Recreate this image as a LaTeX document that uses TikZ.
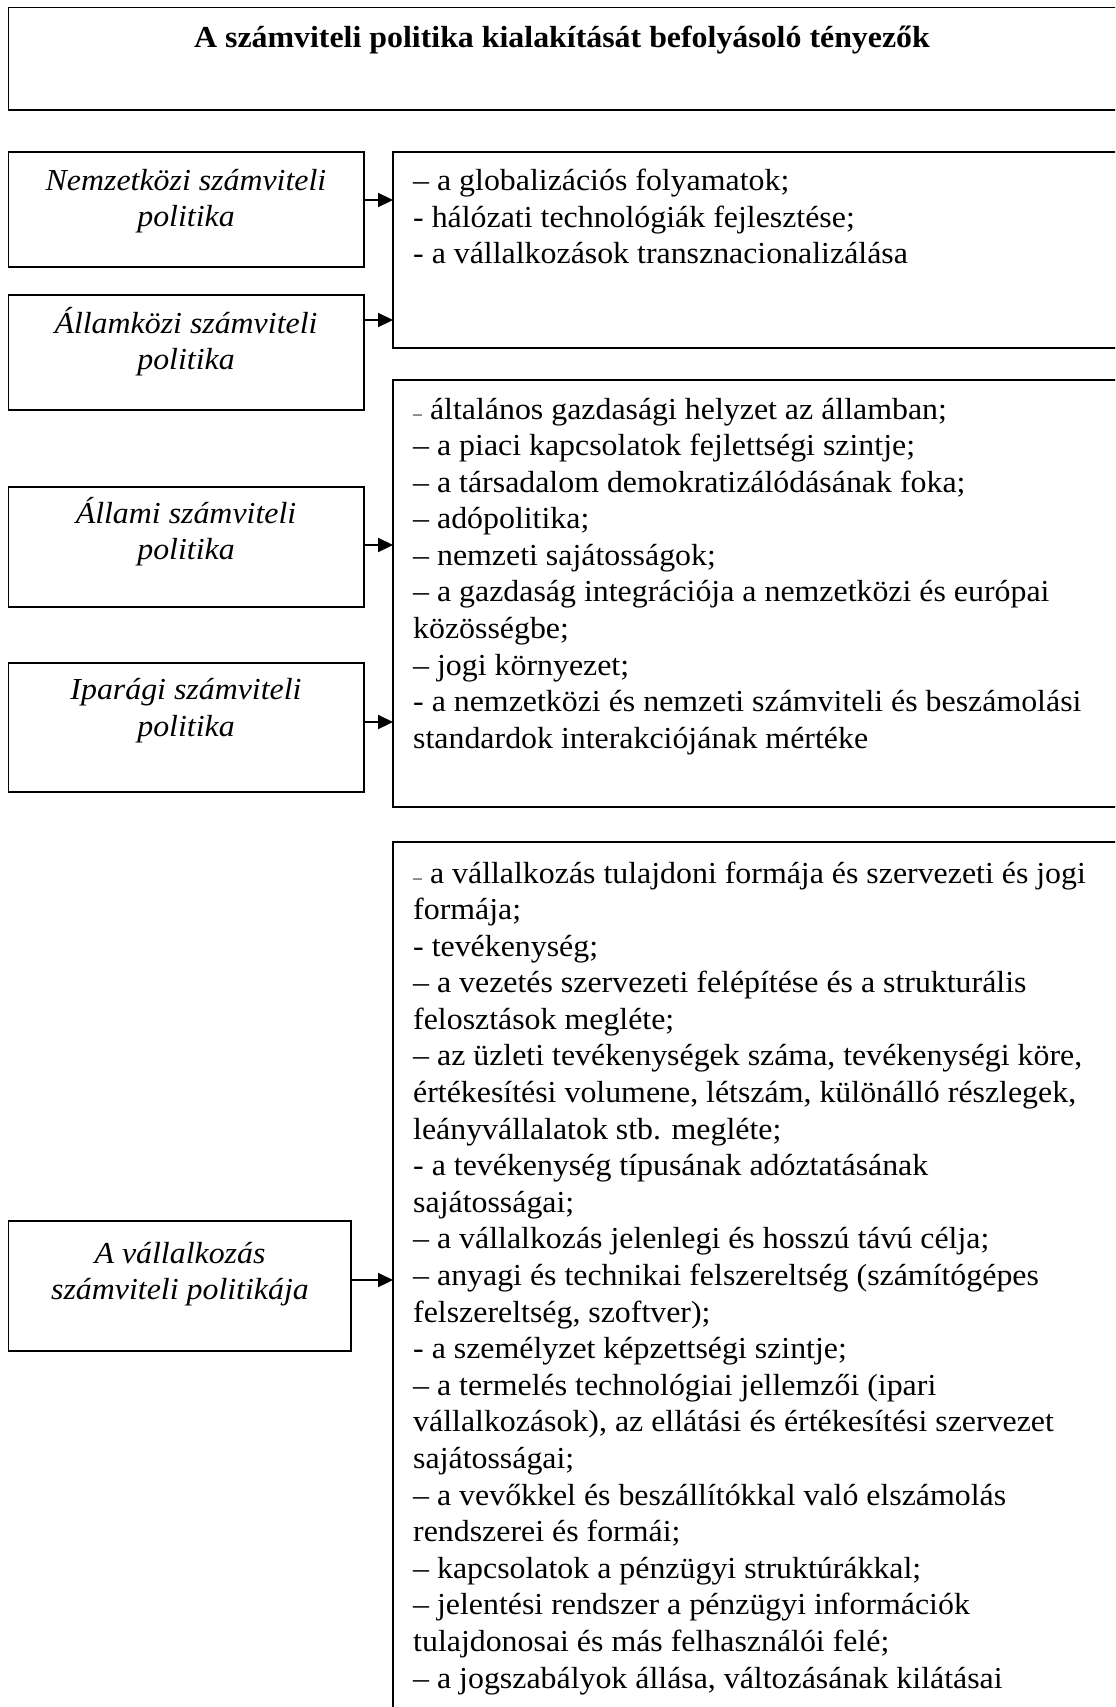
\documentclass[tikz,border=0pt]{standalone}
\usepackage{fontspec}
\setmainfont{Liberation Serif}[FakeStretch=1.045]
\usetikzlibrary{arrows.meta}
\newcommand\bodyfont{\fontsize{30.5bp}{36.6bp}\selectfont}
\newcommand\smdash{{\fontsize{17bp}{17bp}\selectfont –}}
\newcommand\listlines[4]{%
  \foreach \myline [count=\k from 0] in {#4}{%
    \node[listline] (#1-\k) at (#2,{#3+36.59*\k}) {\myline};}}
\begin{document}
\begin{tikzpicture}[x=1bp,y=-1bp,
  frame/.style={draw, line width=1.6bp, inner sep=0pt, outer sep=0pt, anchor=north west},
  conn/.style={line width=2.2bp, -{Triangle[length=15bp,width=14bp]}},
  leftlab/.style={font=\bodyfont\itshape, anchor=base, inner sep=0pt},
  listline/.style={font=\bodyfont, anchor=base west, inner sep=0pt},
  titlelab/.style={font=\bodyfont\bfseries, anchor=base, inner sep=0pt}]
\useasboundingbox (0,0) rectangle (1115,1707);
\clip (0,0) rectangle (1115,1707);

% title
\node[frame, minimum width=1120bp, minimum height=102.7bp] (title) at (8.5,7.3) {};
\node[titlelab] (titletext) at (562,47.3) {A számviteli politika kialakítását befolyásoló tényezők};

% left boxes
\node[frame, minimum width=355.5bp, minimum height=115bp] (nem) at (8.5,152) {};
\node[leftlab] (nem1) at (186,190) {Nemzetközi számviteli};
\node[leftlab] (nem2) at (186,226.7) {politika};

\node[frame, minimum width=355.5bp, minimum height=115bp] (allk) at (8.5,295) {};
\node[leftlab] (allk1) at (186,333) {Államközi számviteli};
\node[leftlab] (allk2) at (186,369.6) {politika};

\node[frame, minimum width=355.5bp, minimum height=120bp] (allam) at (8.5,486.7) {};
\node[leftlab] (allam1) at (186,523) {Állami számviteli};
\node[leftlab] (allam2) at (186,559.6) {politika};

\node[frame, minimum width=355.5bp, minimum height=129bp] (ipar) at (8.5,662.7) {};
\node[leftlab] (ipar1) at (186,699.5) {Iparági számviteli};
\node[leftlab] (ipar2) at (186,736) {politika};

\node[frame, minimum width=342.5bp, minimum height=130bp] (vall) at (8.5,1220.7) {};
\node[leftlab] (vall1) at (180,1263.3) {A vállalkozás};
\node[leftlab] (vall2) at (180,1299) {számviteli politikája};

% right boxes
\node[frame, minimum width=740bp, minimum height=196bp] (r1) at (393,152) {};
\node[frame, minimum width=740bp, minimum height=427bp] (r2) at (393,380) {};
\node[frame, minimum width=740bp, minimum height=900bp] (r3) at (393,841.7) {};

\listlines{ra}{413}{190.7}{%
{– a globalizációs folyamatok;},
{- hálózati technológiák fejlesztése;},
{- a vállalkozások transznacionalizálása}}

\listlines{rb}{413}{419}{%
{\smdash{} általános gazdasági helyzet az államban;},
{– a piaci kapcsolatok fejlettségi szintje;},
{– a társadalom demokratizálódásának foka;},
{– adópolitika;},
{– nemzeti sajátosságok;},
{– a gazdaság integrációja a nemzetközi és európai},
{közösségbe;},
{– jogi környezet;},
{- a nemzetközi és nemzeti számviteli és beszámolási},
{standardok interakciójának mértéke}}

\listlines{rc}{413}{883}{%
{\smdash{} a vállalkozás tulajdoni formája és szervezeti és jogi},
{formája;},
{- tevékenység;},
{– a vezetés szervezeti felépítése és a strukturális},
{felosztások megléte;},
{– az üzleti tevékenységek száma, tevékenységi köre,},
{értékesítési volumene, létszám, különálló részlegek,},
{leányvállalatok stb. megléte;},
{- a tevékenység típusának adóztatásának},
{sajátosságai;},
{– a vállalkozás jelenlegi és hosszú távú célja;},
{– anyagi és technikai felszereltség (számítógépes},
{felszereltség, szoftver);},
{- a személyzet képzettségi szintje;},
{– a termelés technológiai jellemzői (ipari},
{vállalkozások), az ellátási és értékesítési szervezet},
{sajátosságai;},
{– a vevőkkel és beszállítókkal való elszámolás},
{rendszerei és formái;},
{– kapcsolatok a pénzügyi struktúrákkal;},
{– jelentési rendszer a pénzügyi információk},
{tulajdonosai és más felhasználói felé;},
{– a jogszabályok állása, változásának kilátásai}}

% connectors
\draw[conn] ([yshift=9.5bp]nem.east) -- ([yshift=9.5bp]nem.east -| r1.west);
\draw[conn] ([yshift=32.5bp]allk.east) -- ([yshift=32.5bp]allk.east -| r1.west);
\draw[conn] ([yshift=1.7bp]allam.east) -- ([yshift=1.7bp]allam.east -| r2.west);
\draw[conn] ([yshift=5.2bp]ipar.east) -- ([yshift=5.2bp]ipar.east -| r2.west);
\draw[conn] ([yshift=5.7bp]vall.east) -- ([yshift=5.7bp]vall.east -| r3.west);
\end{tikzpicture}
\end{document}
